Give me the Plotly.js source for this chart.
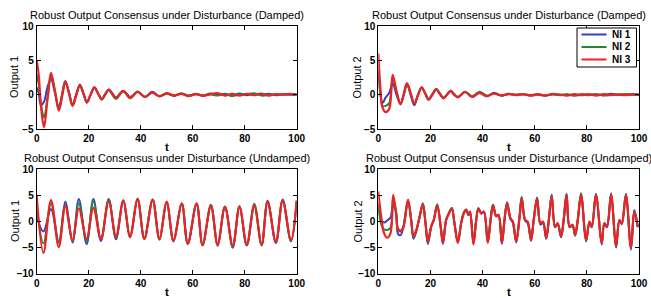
<!DOCTYPE html>
<html>
<head>
<meta charset="utf-8">
<script src="https://cdn.plot.ly/plotly-3.0.1.min.js"></script>
<style>html,body{margin:0;padding:0;background:#fff;}#chart{width:651px;height:298px;}</style>
</head>
<body>
<div id="chart"></div>
<script>
// ---- data ----
const seriesNames = ["NI 1", "NI 2", "NI 3"];
const titleDamped = "Robust Output Consensus under Disturbance (Damped)";
const titleUndamped = "Robust Output Consensus under Disturbance (Undamped)";

// Damped plots: time samples
const tDamped = [0,0.8,1.6,2.8,4.2,5.5,7,8.5,9.8,11,12.4,13.8,15.2,16.6,18,19.3,20.7,22.2,23.6,25,26.3,27.7,29.1,30.5,33.3,36,38.8,41.6,44.4,47.2,50,52.8,55.6,58.4,61.2,64,66.8,69.6,72.4,75.2,78,80.8,83.6,86.4,89.2,92,94.8,97.6,100];

// Damped, Output 1
const d1NI1 = [1.1,0.2,-1.5,-1.0,1.2,2.3,0.3,-1.8,0.2,2.0,0.4,-1.4,0.1,1.5,0.2,-1.1,0,1.0,0.2,-0.6,0,0.7,0.2,-0.4,0.55,-0.3,0.4,-0.3,0.45,-0.2,0.2,-0.15,0.2,-0.1,0.15,-0.1,0.2,0,0.15,-0.1,0.2,-0.05,0.15,0,0.15,-0.05,0.1,0,0.05];
const d1NI2 = [3.0,1.5,-1.2,-3.3,-0.3,2.6,0.6,-2.1,0,1.9,0.3,-1.5,0,1.3,0.1,-1.1,0,1.1,0.2,-0.7,0,0.7,0,-0.6,0.5,-0.5,0.5,-0.3,0.3,-0.2,0.15,-0.1,0.2,-0.15,0.1,-0.1,0.05,-0.1,0.1,-0.15,0.05,0.1,0.25,-0.1,-0.05,0.1,0,0.1,0];
const d1NI3 = [5.0,2.8,-1.5,-4.7,-0.5,3.2,0.6,-2.3,-0.2,1.9,0.2,-1.6,-0.1,1.4,0.2,-1.1,0,1.1,0.2,-0.6,0.1,0.8,0.2,-0.4,0.6,-0.4,0.45,-0.3,0.35,-0.2,0.25,-0.1,0.15,-0.2,0.1,-0.15,0.1,0.25,-0.1,0.15,-0.1,0.15,-0.05,0.2,-0.1,0.1,0.05,0.15,0.05];

// Damped, Output 2
const d2NI1 = [3.5,0.3,-1.2,-0.4,0.3,1.7,0,-1.3,0,1.6,0,-1.5,0,1.1,0.2,-0.7,0,0.8,0.1,-0.5,0,0.5,0,-0.3,0.4,-0.3,0.3,-0.2,0.3,-0.1,0.1,0,0.1,-0.05,0.1,-0.1,0.1,0,0.05,-0.1,0.1,0,0.1,-0.05,0.15,0,0.1,0,0.05];
const d2NI2 = [3.0,0.2,-1.6,-1.6,-1.2,2.4,0.5,-1.3,0.1,1.6,0.2,-1.2,0,1.0,0.2,-0.6,0.1,0.9,0.2,-0.4,0,0.6,0.1,-0.3,0.4,-0.2,0.45,-0.1,0.2,-0.1,0.15,0,0.1,-0.1,0,-0.1,0.05,-0.05,0.1,-0.1,0,-0.05,0.1,-0.1,-0.05,0.05,0.1,0.05,-0.05];
const d2NI3 = [6.0,1.0,-1.8,-2.5,-2.0,2.9,0.5,-1.4,0.2,1.7,0.3,-1.3,-0.1,1.1,0.2,-0.7,0,0.8,0.2,-0.5,0,0.6,0.1,-0.35,0.45,-0.3,0.3,-0.2,0.2,-0.1,0.15,-0.05,0.1,-0.1,0.1,-0.1,0.15,0.05,-0.1,0.1,-0.05,0.1,-0.1,0.1,0,0.05,-0.05,0.1,0];

// Undamped, Output 1: time samples at extrema
const tUndamped1 = [0,2.6,5.5,8.5,11,13.8,16.2,19.2,21.8,24.7,27.7,30.5,33.3,35.9,38.8,41.4,44.6,47.2,50,52.6,55.8,58.1,61.5,63.8,67,69.6,72.4,75.4,78,80.8,83.7,86.5,88.8,92,94.6,97.8,100];
const u1NI1 = [1.0,-1.9,2.4,-3.9,3.8,-4.0,4.3,-4.3,4.3,-3.7,4.3,-3.4,4.1,-3.0,4.2,-3.3,4.1,-3.4,3.7,-3.7,3.4,-4.3,3.3,-4.5,3.0,-4.6,2.8,-5.0,2.9,-4.6,3.0,-4.5,4.0,-4.1,4.2,-3.7,3.8];
const u1NI2 = [3.0,-4.2,3.5,-4.1,3.2,-3.7,3.5,-3.8,3.9,-3.4,4.2,-3.2,4.0,-3.0,4.4,-3.3,4.2,-3.5,3.7,-3.8,3.4,-4.2,3.4,-4.6,3.2,-4.6,2.9,-4.8,3.0,-4.5,3.4,-4.6,3.8,-4.0,4.0,-3.8,4.0];
const u1NI3 = [4.9,-6.0,4.1,-4.9,2.9,-3.6,2.5,-3.3,2.6,-3.3,3.8,-2.9,4.0,-2.9,4.3,-3.3,4.2,-3.3,3.8,-3.6,3.5,-4.2,3.5,-4.4,3.1,-4.4,2.8,-4.6,2.8,-4.4,3.1,-4.4,3.8,-3.9,4.0,-3.6,4.0];

// Undamped, Output 2
const tUndamped2 = [0,1.1,2.2,3.4,4.7,5.7,6.8,7.6,8.6,9.6,11.4,12.6,13.5,14.6,15.8,17.1,18.1,19.0,20.3,21.3,22.6,23.9,24.8,26.0,26.9,28.2,29.2,30.5,31.8,32.8,33.7,34.6,35.2,36.5,37.5,38.4,39.5,40.5,42.0,43.0,44.0,45.2,46.1,47.4,48.4,49.4,50.7,51.6,52.9,54.2,55.0,56.3,57.3,58.6,59.6,60.9,62.2,63.2,64.4,65.4,66.5,67.8,68.8,70.1,71.1,72.2,73.4,74.5,75.5,76.5,77.8,79.7,81.0,81.9,83.5,85.7,86.7,87.7,89.3,91.2,92.5,93.4,95.0,96.9,98.2,99.5];
const u2NI1 = [3.0,0.3,-0.2,0.2,0.8,3.2,1.8,-2.4,-2.6,-1.0,4.0,0.4,-3.3,-1.8,0.9,3.4,-0.2,-4.3,-1.0,0.4,3.2,-0.8,-4.3,0.2,1.4,2.6,-0.2,-4.0,-0.2,1.7,2.3,1.2,1.8,-4.2,0.1,2.5,1.5,1.8,-3.9,0.1,3.2,1.1,1.2,-4.3,0.2,3.7,0.5,-0.2,-4.0,0.9,4.7,0.2,-0.3,-3.7,0.2,4.6,-0.6,-0.3,-3.3,0.2,5.2,-1.1,-0.5,-3.0,0.2,5.3,-1.1,-0.8,-2.7,0.2,5.4,-3.8,-0.2,-1.1,5.3,-4.4,-0.5,-1.1,5.4,-5.0,0.2,-0.5,5.3,-5.4,2.2,-1.1];
const u2NI2 = [3.5,-0.5,-1.5,-1.6,-1.2,4.3,2.0,-1.4,-1.7,-1.0,4.0,0.3,-3.0,-1.7,0.8,3.5,-0.2,-4.0,-0.9,0.4,3.3,-0.8,-4.0,0.3,1.4,2.6,-0.3,-3.9,-0.3,1.6,2.3,1.3,1.9,-4.0,0,2.6,1.6,1.9,-3.9,0,3.2,1.1,1.3,-4.0,0.3,3.6,0.6,0,-3.7,1.0,4.6,0.3,-0.1,-3.5,0.3,4.5,-0.4,-0.1,-3.2,0.3,5.0,-1.0,-0.4,-2.9,0.3,5.2,-1.0,-0.7,-2.6,0.3,5.3,-3.7,-0.1,-1.0,5.2,-4.2,-0.4,-1.0,5.2,-4.8,0.3,-0.4,5.2,-5.1,2.0,-1.0];
const u2NI3 = [5.8,1.0,-2.2,-3.1,-2.2,5.1,1.6,-1.6,-1.9,-1.2,4.2,0.3,-2.8,-1.6,0.7,3.2,-0.3,-3.8,-0.9,0.3,3.0,-0.9,-4.1,0.3,1.3,2.4,-0.3,-4.1,-0.3,1.6,2.2,1.3,1.9,-4.4,0,2.4,1.6,1.9,-4.1,0,3.0,1.0,1.3,-4.1,0.3,3.5,0.6,0,-3.8,1.0,4.4,0.3,0,-3.5,0.3,4.4,-0.3,0,-3.1,0.3,4.8,-0.9,-0.3,-2.8,0.3,5.1,-0.9,-0.6,-2.5,0.3,5.1,-3.5,0,-0.9,5.1,-4.1,-0.3,-0.9,5.1,-4.7,0.3,-0.3,5.1,-5.0,1.9,-0.9];

// ---- drawing ----
const colors = ['#3a3ac8', '#1e8a3c', '#ee2222'];
const widths = [2, 2, 2.2];
const FONT = 'Liberation Sans, Arial, sans-serif';

function mk(t, ys, xa, ya) {
  return ys.map((y, i) => ({
    x: t, y: y, xaxis: xa, yaxis: ya, type: 'scatter', mode: 'lines',
    name: seriesNames[i], showlegend: false,
    line: {color: colors[i], width: widths[i], shape: 'spline', smoothing: 1.0}
  }));
}

const traces = [].concat(
  mk(tDamped, [d1NI1, d1NI2, d1NI3], 'x', 'y'),
  mk(tDamped, [d2NI1, d2NI2, d2NI3], 'x2', 'y2'),
  mk(tUndamped1, [u1NI1, u1NI2, u1NI3], 'x3', 'y3'),
  mk(tUndamped2, [u2NI1, u2NI2, u2NI3], 'x4', 'y4')
);

const W = 651, H = 298;
const px = v => v / W, py = v => 1 - v / H;

function ax(extra) {
  return Object.assign({
    showline: true, linecolor: '#000', linewidth: 1, mirror: 'ticks',
    ticks: 'inside', ticklen: 4, tickcolor: '#000', tickwidth: 1,
    showgrid: false, zeroline: false, fixedrange: true,
    tickfont: {family: FONT, size: 10, color: '#000', weight: 'bold'}
  }, extra);
}

const xL = [px(36.7), px(296.7)], xR = [px(378.3), px(639)];
const yT = [py(129.3), py(26)], yB = [py(273.8), py(169.3)];

const layout = {
  width: W, height: H,
  margin: {l: 0, r: 0, t: 0, b: 0},
  paper_bgcolor: '#fff', plot_bgcolor: '#fff',
  font: {family: FONT, size: 10, color: '#000'},
  xaxis: ax({domain: xL, anchor: 'y', range: [0, 100], tick0: 0, dtick: 20}),
  yaxis: ax({domain: yT, anchor: 'x', range: [-5, 10], tick0: 0, dtick: 5}),
  xaxis2: ax({domain: xR, anchor: 'y2', range: [0, 100], tick0: 0, dtick: 20}),
  yaxis2: ax({domain: yT, anchor: 'x2', range: [-5, 10], tick0: 0, dtick: 5}),
  xaxis3: ax({domain: xL, anchor: 'y3', range: [0, 100], tick0: 0, dtick: 20}),
  yaxis3: ax({domain: yB, anchor: 'x3', range: [-10, 10], tick0: 0, dtick: 5}),
  xaxis4: ax({domain: xR, anchor: 'y4', range: [0, 100], tick0: 0, dtick: 20}),
  yaxis4: ax({domain: yB, anchor: 'x4', range: [-10, 10], tick0: 0, dtick: 5}),
  showlegend: false,
  annotations: [],
  shapes: []
};

function ann(text, x, y, opts) {
  layout.annotations.push(Object.assign({
    text: text, x: x, y: y, xref: 'paper', yref: 'paper',
    xanchor: 'center', yanchor: 'middle', showarrow: false,
    font: {family: FONT, size: 11, color: '#000'}
  }, opts || {}));
}

const cL = px(166.7), cR = px(508.8);
ann(titleDamped, cL, py(15));
ann(titleDamped, cR, py(15));
ann(titleUndamped, cL, py(158));
ann(titleUndamped, cR, py(158));
ann('Output 1', px(14.5), py(77.5), {textangle: -90});
ann('Output 2', px(357), py(77.5), {textangle: -90});
ann('Output 1', px(14.5), py(221.5), {textangle: -90});
ann('Output 2', px(357), py(221.5), {textangle: -90});
const tFont = {family: FONT, size: 11.5, color: '#000', weight: 'bold'};
ann('t', cL, py(147), {font: tFont});
ann('t', cR, py(147), {font: tFont});
ann('t', cL, py(292), {font: tFont});
ann('t', cR, py(292), {font: tFont});

// legend box (top-right panel), drawn as a MATLAB-style legend
layout.shapes.push({type: 'rect', xref: 'paper', yref: 'paper',
  x0: px(577), x1: px(636.5), y0: py(67), y1: py(28),
  line: {color: '#000', width: 1}, fillcolor: '#fff', layer: 'above'});
const rowsY = [34.5, 47, 59.5];
seriesNames.forEach((nm, i) => {
  layout.shapes.push({type: 'line', xref: 'paper', yref: 'paper',
    x0: px(581.5), x1: px(606.5), y0: py(rowsY[i]), y1: py(rowsY[i]),
    line: {color: colors[i], width: 2}, layer: 'above'});
  ann(nm, px(610), py(rowsY[i]), {xanchor: 'left',
    font: {family: FONT, size: 10, color: '#000', weight: 'bold'}});
});

Plotly.newPlot('chart', traces, layout, {staticPlot: true, displayModeBar: false});
</script>
</body>
</html>
